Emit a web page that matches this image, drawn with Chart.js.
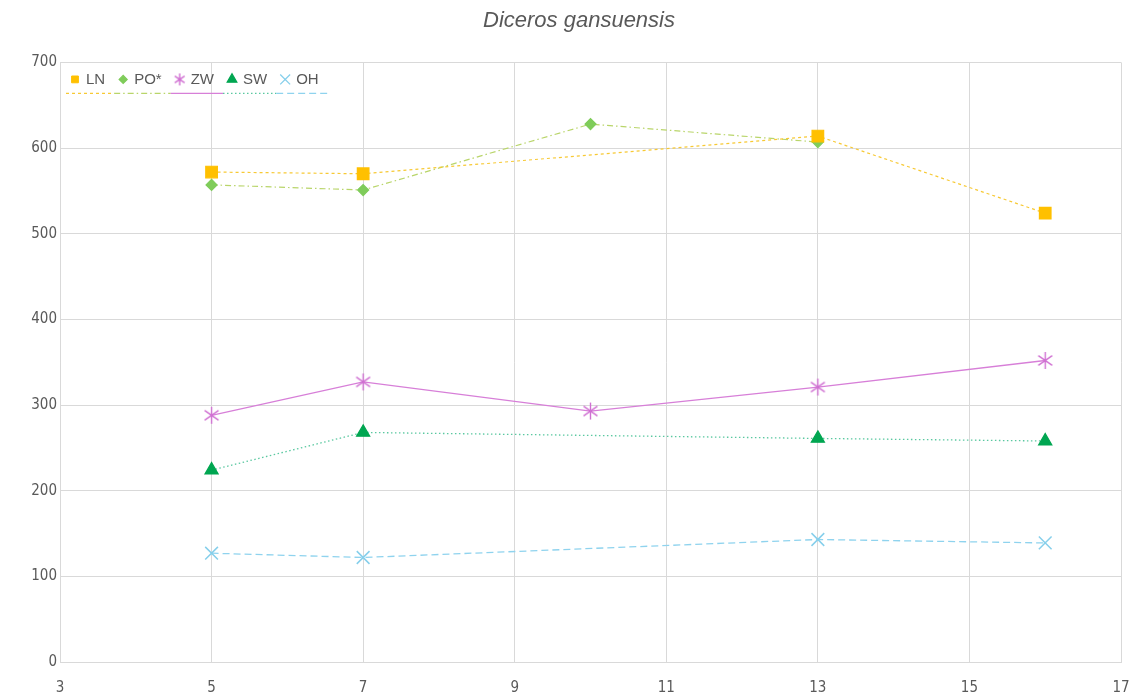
<!DOCTYPE html>
<html>
<head>
<meta charset="utf-8">
<script src="https://cdn.jsdelivr.net/npm/chart.js@4.4.1/dist/chart.umd.min.js"></script>
<style>
  html, body { margin: 0; padding: 0; background: #fff; }
  #wrap { width: 1133px; height: 698px; }
</style>
</head>
<body>
<div id="wrap"><canvas id="chart"></canvas></div>
<script>
// chart values
const xValues = [5, 7, 10, 13, 16];
const seriesNames = ["LN", "PO*", "ZW", "SW", "OH"];
const lnValues = [572, 570, null, 614, 524];
const poValues = [557, 551, 628, 607, null];
const zwValues = [288, 327, 293, 321, 352];
const swValues = [224, 268, null, 261, 258];
const ohValues = [127, 122, null, 143, 139];
const xTicks = [3, 5, 7, 9, 11, 13, 15, 17];
const yTicks = [0, 100, 200, 300, 400, 500, 600, 700];

const gridColor = "#d9d9d9";
const textColor = "#595959";
const tickFont = { family: "'Liberation Sans Narrow', 'DejaVu Sans Condensed', 'Liberation Sans', sans-serif", size: 15 };
const legendFont = "15px 'Liberation Sans', sans-serif";

// excel style asterisk marker (x with a vertical bar)
function makeStar(color, size) {
    const c = document.createElement("canvas");
    c.width = size; c.height = size;
    const g = c.getContext("2d");
    const r = size / 2 - 1;
    g.strokeStyle = color;
    g.lineWidth = 1.4;
    g.beginPath();
    [90, 35, 145].forEach(a => {
        const rad = a * Math.PI / 180;
        g.moveTo(size / 2 - r * Math.cos(rad), size / 2 - r * Math.sin(rad));
        g.lineTo(size / 2 + r * Math.cos(rad), size / 2 + r * Math.sin(rad));
    });
    g.stroke();
    return c;
}

const toPoints = vals => xValues.map((x, i) => ({ x: x, y: vals[i] }));

const datasets = [
    {
        label: seriesNames[0], data: toPoints(lnValues),
        borderColor: "#f7c934", backgroundColor: "#ffc000",
        borderDash: [3, 3], borderWidth: 1.2,
        pointStyle: "rect", pointRadius: 8.2, pointBorderColor: "#ffc000", pointBackgroundColor: "#ffc000",
        legendStyle: "rect", legendRadius: 4.8
    },
    {
        label: seriesNames[1], data: toPoints(poValues),
        borderColor: "#b9d56a", backgroundColor: "#7fcc5a",
        borderDash: [6, 3, 1.5, 3], borderWidth: 1.2,
        pointStyle: "rectRot", pointRadius: 5.5, pointBorderColor: "#7fcc5a", pointBackgroundColor: "#7fcc5a",
        legendStyle: "rectRot", legendRadius: 4
    },
    {
        label: seriesNames[2], data: toPoints(zwValues),
        borderColor: "#d77fd8", backgroundColor: "#d77fd8",
        borderWidth: 1.3,
        pointStyle: makeStar("#d070d2", 19), pointBorderColor: "#d070d2",
        legendStyle: makeStar("#d070d2", 14)
    },
    {
        label: seriesNames[3], data: toPoints(swValues),
        borderColor: "#5ac8a0", backgroundColor: "#00a651",
        borderDash: [1.5, 2.5], borderWidth: 1.3,
        pointStyle: "triangle", pointRadius: 7.5, pointBorderColor: "#00a651", pointBackgroundColor: "#00a651",
        legendStyle: "triangle", legendRadius: 5.5
    },
    {
        label: seriesNames[4], data: toPoints(ohValues),
        borderColor: "#8fd3ee", backgroundColor: "#8fd3ee",
        borderDash: [7, 4], borderWidth: 1.3,
        pointStyle: "crossRot", pointRadius: 9, pointBorderWidth: 1.5, pointBorderColor: "#86cfeb",
        legendStyle: "crossRot", legendRadius: 7
    }
];

// legend drawn inside the plot: marker + name, line sample underneath
const insideLegend = {
    id: "insideLegend",
    afterDraw(chart) {
        const ctx = chart.ctx;
        const area = chart.chartArea;
        const textY = area.top + 17;
        const lineY = area.top + 31;
        ctx.save();
        ctx.font = legendFont;
        ctx.textBaseline = "middle";
        let x = area.left + 11;
        const items = chart.data.datasets.map(ds => {
            const w = ctx.measureText(ds.label).width;
            const item = { ds: ds, start: x, textX: x + 15, end: x + 15 + w };
            x = item.end + 14;
            return item;
        });
        items.forEach((it, i) => {
            const ds = it.ds;
            ctx.save();
            ctx.fillStyle = ds.pointBackgroundColor || ds.pointBorderColor;
            ctx.strokeStyle = ds.pointBorderColor;
            Chart.helpers.drawPoint(ctx, {
                pointStyle: ds.legendStyle,
                radius: ds.legendRadius || 6,
                borderWidth: ds.pointBorderWidth || 1.3,
                rotation: 0
            }, it.start + 4, textY);
            ctx.restore();
            ctx.fillStyle = textColor;
            ctx.fillText(ds.label, it.textX, textY);
            const x1 = it.start - 5;
            const x2 = i < items.length - 1 ? items[i + 1].start - 5 : it.end + 11;
            ctx.strokeStyle = ds.borderColor;
            ctx.lineWidth = ds.borderWidth;
            ctx.setLineDash(ds.borderDash || []);
            ctx.beginPath();
            ctx.moveTo(x1, lineY);
            ctx.lineTo(x2, lineY);
            ctx.stroke();
            ctx.setLineDash([]);
        });
        ctx.restore();
    }
};

new Chart(document.getElementById("chart"), {
    type: "line",
    data: { datasets: datasets },
    plugins: [insideLegend],
    options: {
        responsive: true,
        maintainAspectRatio: false,
        animation: false,
        spanGaps: true,
        layout: { padding: { left: 27, right: 2, top: 8, bottom: 0 } },
        plugins: {
            title: {
                display: true,
                text: "Diceros gansuensis",
                color: textColor,
                font: { family: "'Liberation Sans', sans-serif", size: 22, style: "italic", weight: "normal" },
                padding: { top: 0, bottom: 28 }
            },
            legend: { display: false },
            tooltip: { enabled: false }
        },
        scales: {
            x: {
                type: "linear",
                min: xTicks[0],
                max: xTicks[xTicks.length - 1],
                afterBuildTicks: axis => { axis.ticks = xTicks.map(v => ({ value: v })); },
                afterFit: axis => { axis.height = 36; axis.paddingRight = 12; axis.paddingLeft = 0; },
                grid: { color: gridColor, drawTicks: false },
                border: { color: gridColor },
                ticks: { color: textColor, font: tickFont, padding: 17, maxRotation: 0 }
            },
            y: {
                min: yTicks[0],
                max: yTicks[yTicks.length - 1],
                afterBuildTicks: axis => { axis.ticks = yTicks.map(v => ({ value: v })); },
                afterFit: axis => { axis.width = 33; },
                grid: { color: gridColor, drawTicks: false },
                border: { color: gridColor },
                ticks: { color: textColor, font: tickFont, padding: 3 }
            }
        }
    }
});
</script>
</body>
</html>
